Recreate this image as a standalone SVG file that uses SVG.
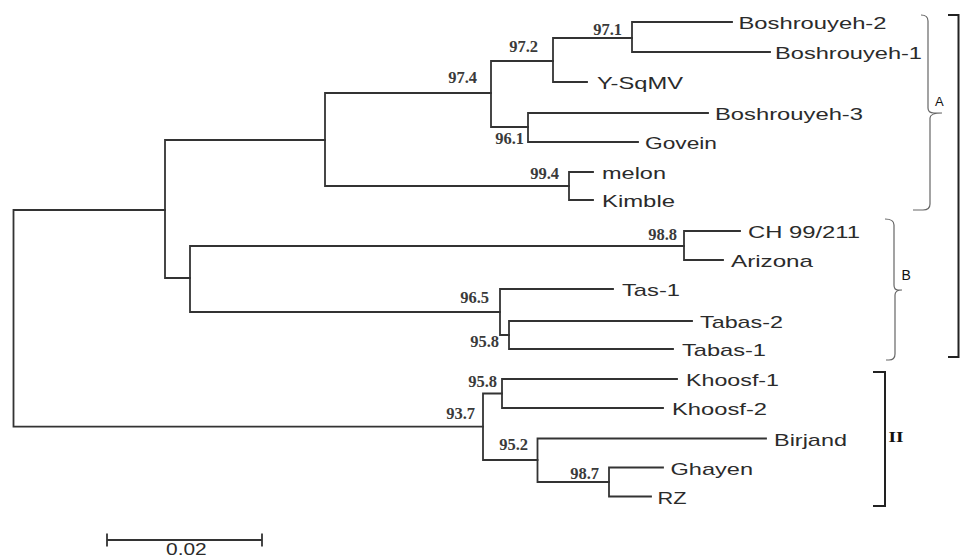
<svg xmlns="http://www.w3.org/2000/svg" width="962" height="558" viewBox="0 0 962 558">
<style>
.br{fill:none;stroke:#333;stroke-width:1.8;stroke-linecap:square}
.tx{font-family:"Liberation Sans",Arial,sans-serif;font-size:17px;fill:#2b2b2b}
.bs{font-family:"Liberation Serif","Times New Roman",serif;font-size:16.5px;font-weight:bold;fill:#3a3a3a;text-anchor:end}
.brace{fill:none;stroke:#666;stroke-width:1.2}
.bk{fill:none;stroke:#222;stroke-width:2}
.cl{font-family:"Liberation Sans",Arial,sans-serif;fill:#111}
</style>
<rect width="962" height="558" fill="#fff"/>
<g id="connectors" class="br">
<path d="M13.5,210 V426.7 M13.5,210 H165 M13.5,426.7 H483"/>
<path d="M165,140 V278 M165,140 H325 M165,278 H190"/>
<path d="M325,93 V186 M325,93 H491 M325,186 H569"/>
<path d="M491,61 V127 M491,61 H553 M491,127 H528"/>
<path d="M553,38 V82 M553,38 H632 M553,82 H587"/>
<path d="M632,22 V52 M632,22 H732 M632,52 H770"/>
<path d="M528,113 V142 M528,113 H708 M528,142 H638"/>
<path d="M569,172 V200 M569,172 H593 M569,200 H593"/>
<path d="M190,246 V312 M190,246 H684 M190,312 H500"/>
<path d="M684,231 V260 M684,231 H740 M684,260 H723"/>
<path d="M500,289 V335 M500,289 H613 M500,335 H509"/>
<path d="M509,321 V349 M509,321 H692 M509,349 H673"/>
<path d="M483,393.5 V460 M483,393.5 H502 M483,460 H537.5"/>
<path d="M502,379 V408 M502,379 H677 M502,408 H663"/>
<path d="M537.5,438.5 V482 M537.5,438.5 H766 M537.5,482 H609"/>
<path d="M609,467.5 V496.5 M609,467.5 H663 M609,496.5 H651"/>
</g>
<g id="taxa">
<g id="t-boshrouyeh2"><text class="tx" x="738.5" y="29" textLength="148" lengthAdjust="spacingAndGlyphs">Boshrouyeh-2</text></g>
<g id="t-boshrouyeh1"><text class="tx" x="775" y="59" textLength="147" lengthAdjust="spacingAndGlyphs">Boshrouyeh-1</text></g>
<g id="t-ysqmv"><text class="tx" x="597" y="89" textLength="86" lengthAdjust="spacingAndGlyphs">Y-SqMV</text></g>
<g id="t-boshrouyeh3"><text class="tx" x="715" y="120" textLength="148" lengthAdjust="spacingAndGlyphs">Boshrouyeh-3</text></g>
<g id="t-govein"><text class="tx" x="645" y="149" textLength="72" lengthAdjust="spacingAndGlyphs">Govein</text></g>
<g id="t-melon"><text class="tx" x="602" y="179" textLength="64" lengthAdjust="spacingAndGlyphs">melon</text></g>
<g id="t-kimble"><text class="tx" x="602" y="207" textLength="73" lengthAdjust="spacingAndGlyphs">Kimble</text></g>
<g id="t-ch99"><text class="tx" x="748" y="238" textLength="112" lengthAdjust="spacingAndGlyphs">CH 99/211</text></g>
<g id="t-arizona"><text class="tx" x="731" y="267" textLength="82" lengthAdjust="spacingAndGlyphs">Arizona</text></g>
<g id="t-tas1"><text class="tx" x="622" y="296" textLength="58" lengthAdjust="spacingAndGlyphs">Tas-1</text></g>
<g id="t-tabas2"><text class="tx" x="700" y="328" textLength="83" lengthAdjust="spacingAndGlyphs">Tabas-2</text></g>
<g id="t-tabas1"><text class="tx" x="682" y="356" textLength="84" lengthAdjust="spacingAndGlyphs">Tabas-1</text></g>
<g id="t-khoosf1"><text class="tx" x="686" y="386" textLength="93" lengthAdjust="spacingAndGlyphs">Khoosf-1</text></g>
<g id="t-khoosf2"><text class="tx" x="672" y="415" textLength="95" lengthAdjust="spacingAndGlyphs">Khoosf-2</text></g>
<g id="t-birjand"><text class="tx" x="774" y="445.5" textLength="73" lengthAdjust="spacingAndGlyphs">Birjand</text></g>
<g id="t-ghayen"><text class="tx" x="670.5" y="474.5" textLength="82.5" lengthAdjust="spacingAndGlyphs">Ghayen</text></g>
<g id="t-rz"><text class="tx" x="657.5" y="503.5" textLength="29" lengthAdjust="spacingAndGlyphs">RZ</text></g>
</g>
<g id="bootstrap">
<g id="n-971"><text class="bs" x="622" y="34.5">97.1</text></g>
<g id="n-972"><text class="bs" x="538" y="51.5">97.2</text></g>
<g id="n-974"><text class="bs" x="477" y="82.5">97.4</text></g>
<g id="n-961"><text class="bs" x="524" y="143.5">96.1</text></g>
<g id="n-994"><text class="bs" x="559" y="178.5">99.4</text></g>
<g id="n-988"><text class="bs" x="677" y="239.5">98.8</text></g>
<g id="n-965"><text class="bs" x="489" y="302.5">96.5</text></g>
<g id="n-958b"><text class="bs" x="499" y="346.5">95.8</text></g>
<g id="n-958k"><text class="bs" x="497" y="386.5">95.8</text></g>
<g id="n-937"><text class="bs" x="475" y="418.5">93.7</text></g>
<g id="n-952"><text class="bs" x="528" y="450">95.2</text></g>
<g id="n-987"><text class="bs" x="599" y="478.5">98.7</text></g>
</g>
<g id="clade-A">
<path class="brace" d="M921,15 Q928,15 928,21 L928,108 Q928,113 934,113 L942,113 M942,113 Q930,113 930,118 L930,204 Q930,210 923,210 L913,210"/>
<text class="cl" x="935" y="106" font-size="13">A</text>
</g>
<g id="clade-B">
<path class="brace" d="M885,219 Q894,219 894,225 L894,285 Q894,290 898,290 L902,290 M902,290 Q895,290 895,295 L895,354 Q895,360 889,360 L886,360"/>
<text class="cl" x="901.5" y="280" font-size="14">B</text>
</g>
<g id="clade-I">
<path class="bk" d="M948,15 H958.5 V357 H948"/>
</g>
<g id="clade-II">
<path class="bk" d="M873,372 H885 V506 H873"/>
<text x="888.5" y="442" font-family="'Liberation Serif','Times New Roman',serif" font-size="15" font-weight="bold" fill="#111" textLength="15" lengthAdjust="spacingAndGlyphs">II</text>
</g>
<g id="scale-bar">
<path class="br" d="M107,540 H262 M107,534.5 V545.5 M262,534.5 V545.5"/>
<text class="tx" x="166" y="555" font-size="16" textLength="40.7" lengthAdjust="spacingAndGlyphs">0.02</text>
</g>
</svg>
